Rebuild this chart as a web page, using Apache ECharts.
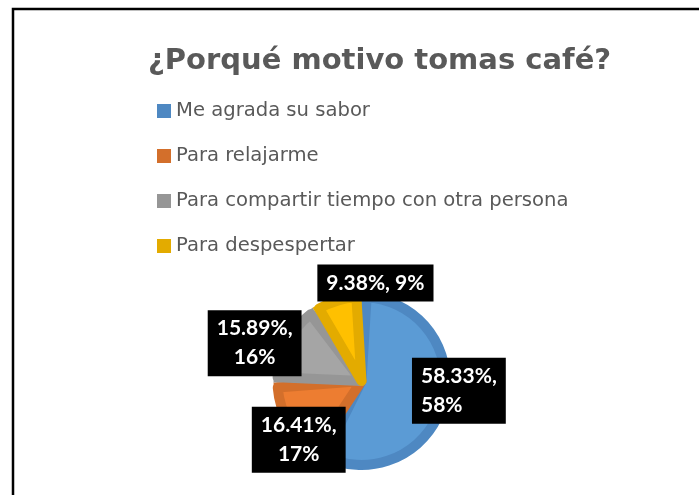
<!DOCTYPE html>
<html>
<head>
<meta charset="utf-8">
<script src="https://cdn.jsdelivr.net/npm/echarts@6/dist/echarts.min.js"></script>
<style>
    html, body {margin: 0; padding: 0; background: #fff;}
    #chart {width: 699px; height: 495px;}
</style>
</head>
<body>
<div id="chart"></div>
<script>
    let categories = ['Me agrada su sabor', 'Para relajarme', 'Para compartir tiempo con otra persona', 'Para despespertar'];
    let values = [58.33, 16.41, 15.89, 9.38];
    let lightColors = ['#5B9BD5', '#ED7D31', '#A5A5A5', '#FFC000'];
    let darkColors = ['#4E88C2', '#D36F2B', '#969696', '#E3AB00'];
    // label box shifts from the default inside position
    let labelShift = [[7, -2, 'left'], [-24, 36, 'center'], [-67, -17, 'center'], [27, -55, 'center']];
    let labelSep = [',\n', ',\n', ',\n', ', '];

    let chart = echarts.init(document.getElementById('chart'));

    let outerData = values.map(function (v, i) {
        return {name: categories[i], value: v, itemStyle: {color: darkColors[i]}};
    });
    let innerData = values.map(function (v, i) {
        return {name: categories[i], value: v, itemStyle: {color: lightColors[i], borderColor: darkColors[i]}};
    });

    let option = {
        backgroundColor: '#fff',
        animation: false,
        title: {
            text: '¿Porqué motivo tomas café?',
            left: 143,
            top: 42,
            textStyle: {
                fontFamily: 'DejaVu Sans',
                fontSize: 29,
                fontWeight: 'bold',
                color: '#595959'
            }
        },
        legend: {
            orient: 'vertical',
            left: 152,
            top: 96,
            itemWidth: 14,
            itemHeight: 14,
            itemGap: 25,
            icon: 'rect',
            data: categories,
            textStyle: {
                fontFamily: 'DejaVu Sans',
                fontSize: 19.6,
                lineHeight: 20,
                color: '#595959'
            }
        },
        graphic: [{
            type: 'rect',
            silent: true,
            shape: {x: 13, y: 9, width: 800, height: 600},
            style: {fill: 'none', stroke: '#000', lineWidth: 2.5}
        }],
        series: [{
            name: 'outer',
            type: 'pie',
            z: 1,
            silent: true,
            center: [361.5, 381],
            radius: 88,
            startAngle: 90,
            label: {show: false},
            labelLine: {show: false},
            data: outerData
        }, {
            name: 'inner',
            type: 'pie',
            z: 2,
            silent: true,
            center: [361.5, 381],
            radius: 84,
            startAngle: 90,
            padAngle: 7,
            percentPrecision: 0,
            itemStyle: {borderWidth: 10, borderJoin: 'round'},
            label: {
                show: true,
                position: 'inside',
                formatter: function (p) {
                    return p.value.toFixed(2) + '%' + labelSep[p.dataIndex] + Math.round(p.percent) + '%';
                },
                fontFamily: 'Lato',
                fontSize: 21,
                fontWeight: 'bold',
                color: '#fff',
                lineHeight: 29,
                backgroundColor: '#000',
                padding: [4, 9]
            },
            labelLine: {show: false},
            labelLayout: function (params) {
                let s = labelShift[params.dataIndex];
                return {dx: s[0], dy: s[1], align: s[2]};
            },
            data: innerData
        }]
    };

    chart.setOption(option);
    window.onresize = () => {
        chart.resize();
    };
</script>
</body>
</html>
